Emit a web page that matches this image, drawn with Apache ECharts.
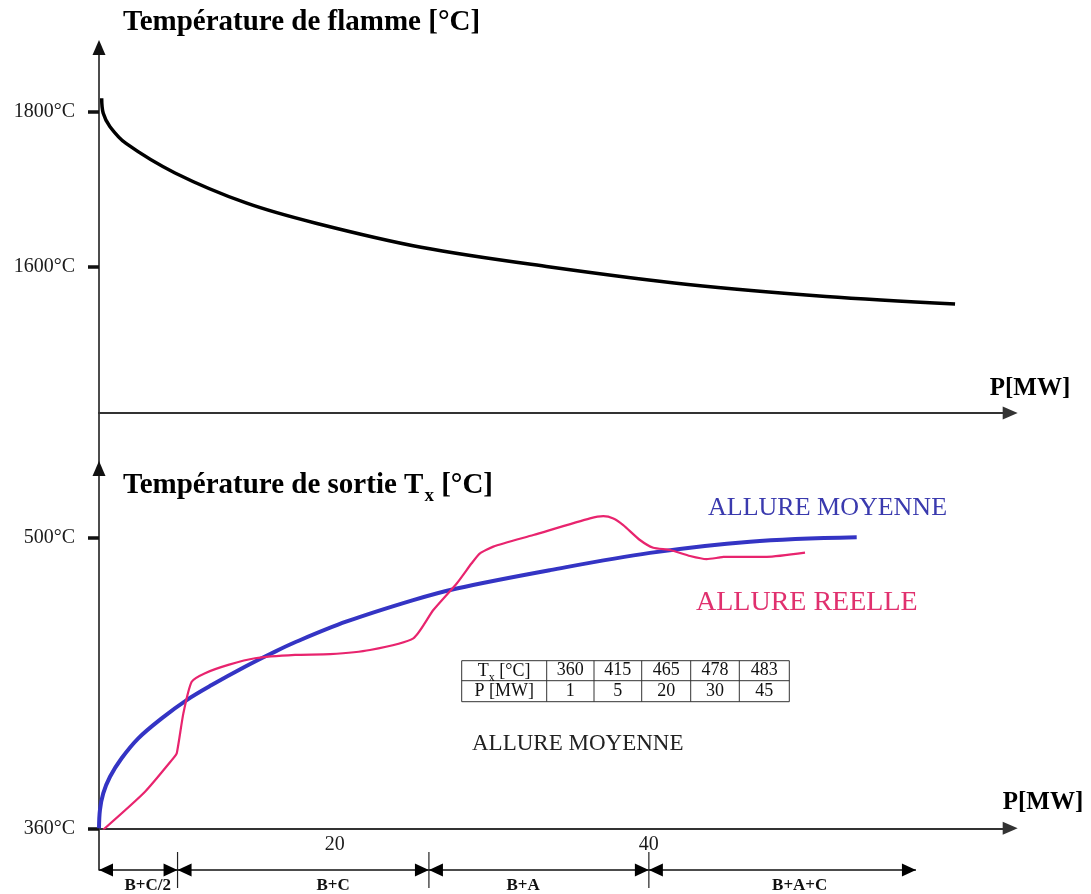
<!DOCTYPE html>
<html><head><meta charset="utf-8">
<script src="https://cdn.jsdelivr.net/npm/echarts@6/dist/echarts.min.js"></script>
<style>html,body{margin:0;padding:0;background:#fff}#c{width:1091px;height:894px}</style>
</head><body><div id="c"></div>
<script>
// ---- data ----
const flameP = [5.17, 5.27, 5.70, 6.72, 9.84, 14.36, 18.81, 25.50, 33.71, 42.49, 51.28, 59.49];
const flameT = [1817.3, 1797.9, 1780.6, 1759.0, 1720.9, 1682.2, 1656.0, 1625.0, 1599.6, 1577.0, 1561.5, 1551.9];

const avgP = [5.0, 5.06, 5.27, 5.70, 6.44, 7.50, 8.99, 10.58, 12.17, 14.29, 15.99, 17.48, 20.77, 25.0, 27.77, 33.71, 40.07, 46.44, 53.23];
const avgT = [360, 368.8, 376.8, 384.8, 393.7, 403.3, 412.9, 421.7, 428.9, 437.7, 444.2, 449.5, 459.5, 469.8, 475.4, 484.2, 492.5, 497.9, 500.0];

const realP = [5.25, 7.93, 9.73, 9.95, 10.37, 10.90, 11.75, 13.23, 14.93, 17.48, 19.70, 22.25, 25.01, 26.28, 27.77, 28.72, 29.25, 30.10, 32.65, 36.25, 37.10, 37.74, 38.37, 39.43, 40.28, 41.35, 42.62, 43.68, 44.42, 44.74, 47.50, 49.94];
const realT = [359.2, 377.6, 393.7, 396.1, 415.3, 430.5, 434.6, 438.6, 441.8, 443.4, 443.8, 445.8, 451.4, 465.0, 477.8, 487.5, 492.3, 495.5, 501.1, 509.1, 510.2, 509.1, 505.9, 498.7, 495.0, 493.9, 491.0, 489.5, 490.2, 490.6, 490.6, 492.6];

const topYTicks = [1600, 1800];
const botYTicks = [360, 500];
const xTickValues = [20, 40];

const segBounds = [5, 10, 26, 40, 57];
const segNames = ['B+C/2', 'B+C', 'B+A', 'B+A+C'];
const segNameAt = [8.1, 19.9, 32.0, 49.6];

const tableTx = ['360', '415', '465', '478', '483'];
const tableP = ['1', '5', '20', '30', '45'];

// ---- layout / style ----
const SERIF = "'Liberation Serif','Times New Roman',serif";
const LEFT = 99, PW = 911.2;
const X_MIN = 5, X_MAX = 63;
const BLUE = '#3434c4', PINK = '#e8246e';

function pairs(xs, ys) { return xs.map((x, i) => [x, ys[i]]); }

const chart = echarts.init(document.getElementById('c'), null, {renderer: 'canvas'});

const grids = [
  {left: LEFT, width: PW, top: 47.5, height: 365.5},   // 0 top plot
  {left: LEFT, width: PW, top: 413, height: 55.5},     // 1 connector
  {left: LEFT, width: PW, top: 468.5, height: 359.8},  // 2 bottom plot
  {left: LEFT, width: PW, top: 828.3, height: 41.7},   // 3 connector
  {left: LEFT, width: PW, top: 852, height: 36}        // 4 dimension row
];

function hiddenX(g) { return {gridIndex: g, type: 'value', min: X_MIN, max: X_MAX, show: false}; }
function connectorY(g) {
  return {gridIndex: g, type: 'value', min: 0, max: 1,
    axisLine: {show: true, onZero: false, lineStyle: {color: '#111', width: 1.5}},
    axisTick: {show: false}, axisLabel: {show: false}, splitLine: {show: false}};
}
const xAxisLine = {show: true, onZero: false, symbol: ['none', 'triangle'], symbolSize: [13, 15],
  lineStyle: {color: '#333', width: 2}};
const yAxisLine = {show: true, onZero: false, symbol: ['none', 'triangle'], symbolSize: [13, 15],
  lineStyle: {color: '#111', width: 1.5}};
const yTick = (vals) => ({show: true, length: 11, customValues: vals, lineStyle: {color: '#111', width: 3.5}});
const yLabel = (vals) => ({show: true, customValues: vals, margin: 24, formatter: v => v + '°C',
  fontFamily: SERIF, fontSize: 20, color: '#1a1a1a'});

const option = {
  backgroundColor: '#fff',
  animation: false,
  grid: grids,
  xAxis: [
    {gridIndex: 0, type: 'value', min: X_MIN, max: X_MAX, axisLine: xAxisLine,
      axisTick: {show: false}, axisLabel: {show: false}, splitLine: {show: false}},
    hiddenX(1),
    {gridIndex: 2, type: 'value', min: X_MIN, max: X_MAX, axisLine: xAxisLine,
      axisTick: {show: false}, splitLine: {show: false},
      axisLabel: {show: true, customValues: xTickValues, margin: 6, fontFamily: SERIF, fontSize: 20, color: '#1a1a1a'}},
    hiddenX(3),
    hiddenX(4)
  ],
  yAxis: [
    {gridIndex: 0, type: 'value', min: 1411.2, max: 1882.8, axisLine: yAxisLine,
      axisTick: yTick(topYTicks), axisLabel: yLabel(topYTicks), splitLine: {show: false}},
    connectorY(1),
    {gridIndex: 2, type: 'value', min: 360, max: 533.1, axisLine: yAxisLine,
      axisTick: yTick(botYTicks), axisLabel: yLabel(botYTicks), splitLine: {show: false}},
    connectorY(3),
    {gridIndex: 4, type: 'value', min: 0, max: 1, show: false}
  ],
  series: [
    {name: 'Température de flamme', type: 'line', xAxisIndex: 0, yAxisIndex: 0,
      data: pairs(flameP, flameT), smooth: 0.35, showSymbol: false,
      lineStyle: {color: '#000', width: 3.5}},
    {name: 'ALLURE MOYENNE', type: 'line', xAxisIndex: 2, yAxisIndex: 2,
      data: pairs(avgP, avgT), smooth: 0.35, showSymbol: false,
      lineStyle: {color: BLUE, width: 4}},
    {name: 'ALLURE REELLE', type: 'line', xAxisIndex: 2, yAxisIndex: 2,
      data: pairs(realP, realT), smooth: 0.2, showSymbol: false,
      lineStyle: {color: PINK, width: 2.2}},
    {name: 'plages', type: 'custom', xAxisIndex: 4, yAxisIndex: 4,
      data: segNames.map((n, i) => [segBounds[i], segBounds[i + 1], segNameAt[i], i]),
      encode: {x: [0, 1, 2]},
      renderItem: function (params, api) {
        const s = api.value(0), e = api.value(1), lx = api.value(2), idx = api.value(3);
        const a = api.coord([s, 0.5]), b = api.coord([e, 0.5]);
        const y = a[1], L = 14, H = 6.5;
        const children = [
          {type: 'line', shape: {x1: a[0], y1: y, x2: b[0], y2: y}, style: {stroke: '#111', lineWidth: 1.5}},
          {type: 'polygon', shape: {points: [[a[0], y], [a[0] + L, y - H], [a[0] + L, y + H]]}, style: {fill: '#000'}},
          {type: 'polygon', shape: {points: [[b[0], y], [b[0] - L, y - H], [b[0] - L, y + H]]}, style: {fill: '#000'}},
          {type: 'text', x: api.coord([lx, 0.5])[0], y: y + 16,
            style: {text: segNames[idx], fill: '#111', font: 'bold 17px ' + SERIF,
              align: 'center', verticalAlign: 'middle', textAlign: 'center', textVerticalAlign: 'middle'}}
        ];
        if (idx < segNames.length - 1) {
          const t = api.coord([e, 1]), bt = api.coord([e, 0]);
          children.push({type: 'line', shape: {x1: b[0], y1: t[1], x2: b[0], y2: bt[1]},
            style: {stroke: '#222', lineWidth: 1.2}});
        }
        return {type: 'group', children: children};
      }}
  ],
  graphic: []
};

// texts
function txt(x, y, text, font, fill, align, rich) {
  const st = {text: text, font: font, fill: fill || '#000', align: align || 'left', textAlign: align || 'left',
    verticalAlign: 'middle', textVerticalAlign: 'middle'};
  if (rich) st.rich = rich;
  return {type: 'text', x: x, y: y, style: st, z: 10};
}
const g = option.graphic;
g.push(txt(123, 22.5, 'Température de flamme [°C]', 'bold 29px ' + SERIF, '#000'));
g.push(txt(123, 484, '{m|Température de sortie T}{s|x}{m| [°C]}', 'bold 29px ' + SERIF, '#000', 'left', {
  m: {font: 'bold 29px ' + SERIF, fill: '#000', lineHeight: 32, verticalAlign: 'bottom'},
  s: {font: 'bold 19px ' + SERIF, fill: '#000', lineHeight: 32, verticalAlign: 'bottom', padding: [0, 0, -6, 1]}
}));
g.push(txt(1030, 389, 'P[MW]', 'bold 25px ' + SERIF, '#000', 'center'));
g.push(txt(1043, 803, 'P[MW]', 'bold 25px ' + SERIF, '#000', 'center'));
g.push(txt(708, 508, 'ALLURE MOYENNE', '26px ' + SERIF, '#3a3aae'));
g.push(txt(696, 603, 'ALLURE REELLE', '28px ' + SERIF, '#e0306e'));
g.push(txt(472, 744, 'ALLURE MOYENNE', '23px ' + SERIF, '#222'));

// table
const colX = [461.7, 546.7, 594, 641.7, 690.7, 739.3, 789.3];
const rowY = [660.7, 680.7, 701.7];
const tStroke = {stroke: '#333', lineWidth: 1, fill: 'none'};
g.push({type: 'rect', shape: {x: colX[0], y: rowY[0], width: colX[6] - colX[0], height: rowY[2] - rowY[0]}, style: tStroke, z: 10});
g.push({type: 'line', shape: {x1: colX[0], y1: rowY[1], x2: colX[6], y2: rowY[1]}, style: {stroke: '#333', lineWidth: 1}, z: 10});
for (let i = 1; i < 6; i++) {
  g.push({type: 'line', shape: {x1: colX[i], y1: rowY[0], x2: colX[i], y2: rowY[2]}, style: {stroke: '#333', lineWidth: 1}, z: 10});
}
const cellFont = '18px ' + SERIF;
g.push(txt((colX[0] + colX[1]) / 2, (rowY[0] + rowY[1]) / 2, '{m|T}{s|x}{m| [°C]}', cellFont, '#111', 'center', {
  m: {font: cellFont, fill: '#111', lineHeight: 20, verticalAlign: 'bottom'},
  s: {font: '12px ' + SERIF, fill: '#111', lineHeight: 20, verticalAlign: 'bottom', padding: [0, 0, -3, 0]}
}));
g.push(txt((colX[0] + colX[1]) / 2, (rowY[1] + rowY[2]) / 2, 'P [MW]', cellFont, '#111', 'center'));
for (let i = 0; i < 5; i++) {
  const cx = (colX[i + 1] + colX[i + 2]) / 2;
  g.push(txt(cx, (rowY[0] + rowY[1]) / 2, tableTx[i], cellFont, '#111', 'center'));
  g.push(txt(cx, (rowY[1] + rowY[2]) / 2, tableP[i], cellFont, '#111', 'center'));
}

chart.setOption(option);
</script>
</body></html>
